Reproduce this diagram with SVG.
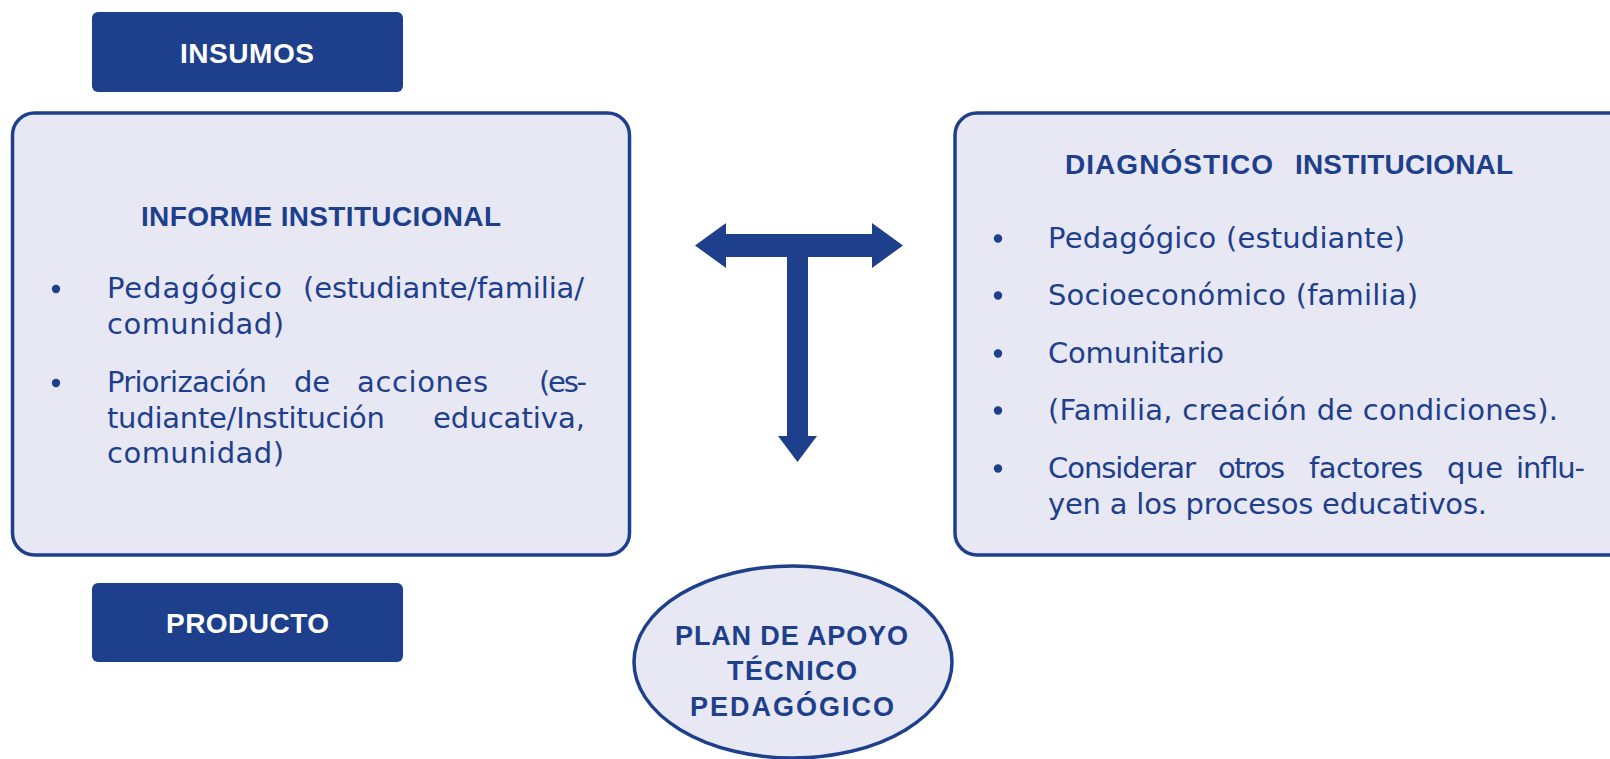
<svg xmlns="http://www.w3.org/2000/svg" width="1610" height="759" viewBox="0 0 1610 759">
<style>
.tag{fill:#1e3f8c;}
.tagtxt{font-family:"Liberation Sans",Arial,sans-serif;font-weight:bold;font-size:28px;fill:#ffffff;}
.box{fill:#e8e8f4;stroke:#1e3f8c;stroke-width:3.5;}
.head{font-family:"Liberation Sans",Arial,sans-serif;font-weight:bold;font-size:28px;fill:#1e3f8c;}
.oval{font-family:"Liberation Sans",Arial,sans-serif;font-weight:bold;font-size:27px;fill:#1e3f8c;}
.body{font-family:"DejaVu Sans","Liberation Sans",sans-serif;font-size:29px;fill:#1e3f8c;}
.bul{fill:#1e3f8c;}
.arrow{fill:#1e3f8c;}
</style>
<rect width="1610" height="759" fill="#ffffff"/>

<g id="insumos">
<rect class="tag" x="92" y="12" width="311" height="80" rx="6"/>
<text class="tagtxt" x="180" y="63" textLength="134">INSUMOS</text>
</g>

<g id="informe">
<rect class="box" x="12.5" y="113" width="617" height="442" rx="22"/>
<text class="head" x="141" y="226" textLength="360">INFORME INSTITUCIONAL</text>
<circle class="bul" cx="56" cy="289" r="4.2"/>
<text class="body" y="298"><tspan x="107" textLength="175">Pedagógico</tspan> <tspan x="303" textLength="281">(estudiante/familia/</tspan></text>
<text class="body" x="107" y="334" textLength="177">comunidad)</text>
<circle class="bul" cx="56" cy="383" r="4.2"/>
<text class="body" y="392"><tspan x="107" textLength="160">Priorización</tspan> <tspan x="294" textLength="36">de</tspan> <tspan x="357" textLength="131">acciones</tspan> <tspan x="539" textLength="48">(es-</tspan></text>
<text class="body" y="427.5"><tspan x="107" textLength="278">tudiante/Institución</tspan> <tspan x="433" textLength="152">educativa,</tspan></text>
<text class="body" x="107" y="463" textLength="177">comunidad)</text>
</g>

<g id="diagnostico">
<rect class="box" x="955" y="113" width="720" height="442" rx="22"/>
<text class="head" y="174"><tspan x="1065" textLength="208">DIAGNÓSTICO</tspan> <tspan x="1295" textLength="218">INSTITUCIONAL</tspan></text>
<circle class="bul" cx="998" cy="238.5" r="4.2"/>
<text class="body" x="1048" y="248" textLength="357">Pedagógico (estudiante)</text>
<circle class="bul" cx="998" cy="295.5" r="4.2"/>
<text class="body" x="1048" y="305" textLength="370">Socioeconómico (familia)</text>
<circle class="bul" cx="998" cy="353.5" r="4.2"/>
<text class="body" x="1048" y="363" textLength="176">Comunitario</text>
<circle class="bul" cx="998" cy="410.5" r="4.2"/>
<text class="body" x="1048" y="420" textLength="510">(Familia, creación de condiciones).</text>
<circle class="bul" cx="998" cy="468.5" r="4.2"/>
<text class="body" y="478"><tspan x="1048" textLength="148">Considerar</tspan> <tspan x="1218" textLength="67">otros</tspan> <tspan x="1309" textLength="114">factores</tspan> <tspan x="1447" textLength="56">que</tspan> <tspan x="1516" textLength="69">influ-</tspan></text>
<text class="body" x="1048" y="514" textLength="439">yen a los procesos educativos.</text>
</g>

<g id="producto">
<rect class="tag" x="92" y="583" width="311" height="79" rx="6"/>
<text class="tagtxt" x="166" y="633" textLength="163">PRODUCTO</text>
</g>

<g id="plan">
<ellipse cx="793" cy="662" rx="159" ry="96" fill="#e8e8f4" stroke="#1e3f8c" stroke-width="3.5"/>
<text class="oval" x="675" y="645" textLength="233">PLAN DE APOYO</text>
<text class="oval" x="727" y="680" textLength="130">TÉCNICO</text>
<text class="oval" x="690" y="716" textLength="204">PEDAGÓGICO</text>
</g>

<g id="connectors">
<polygon class="arrow" points="695,245.5 726,223 726,234 872,234 872,223 903,245.5 872,268 872,257 808,257 808,436 817,436 797.5,462 778,436 787,436 787,257 726,257 726,268"/>
</g>
</svg>
